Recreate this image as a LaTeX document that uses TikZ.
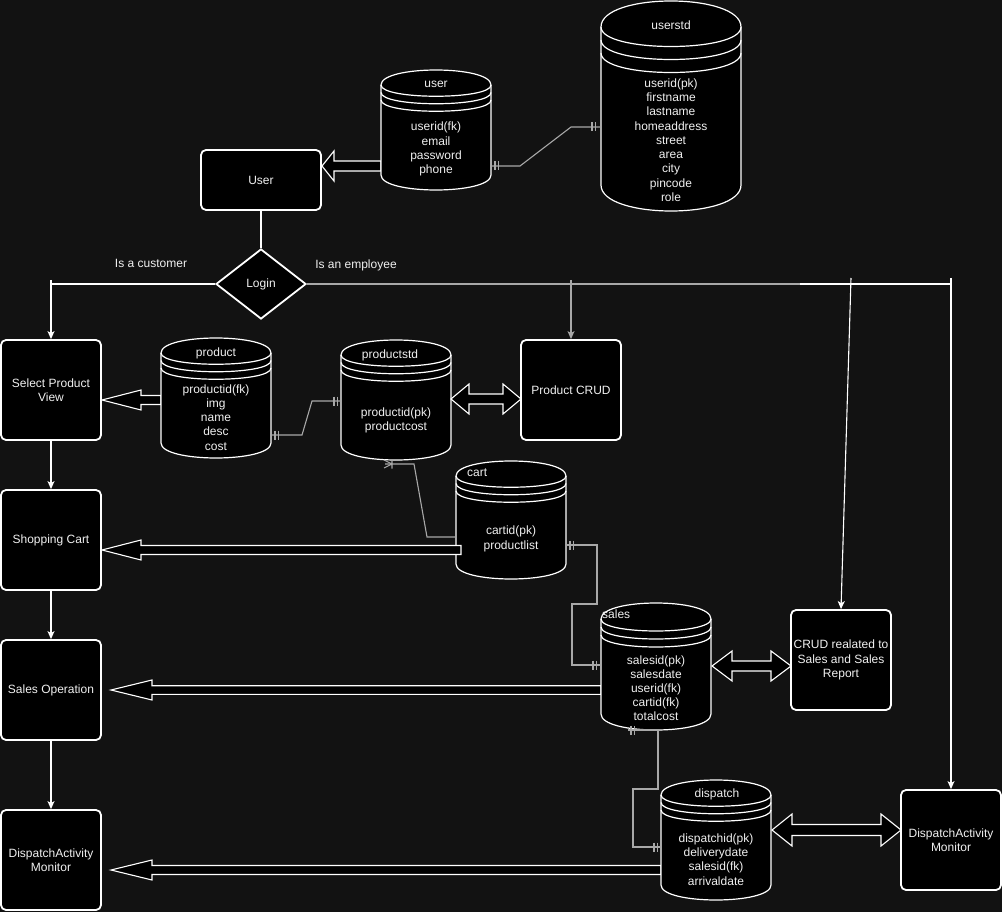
\documentclass[tikz,border=0pt]{standalone}
\usepackage{fontspec}
\setmainfont{Liberation Sans}
\usetikzlibrary{arrows.meta,shapes.geometric,calc}
\definecolor{bg}{HTML}{121212}
\definecolor{fg}{HTML}{F0F0F0}
\definecolor{gline}{HTML}{A8A8A8}
\newcommand\dfont{\fontsize{12}{14.2}\selectfont}
\tikzset{
  box/.style={draw=white, fill=black, rounded corners=5pt, line width=1.8pt, text=fg, align=center,
    inner sep=0pt, font=\dfont, minimum width=100pt, minimum height=100pt},
  cyl/.style={draw=white, fill=black, line width=1.2pt},
  cylline/.style={draw=white, line width=1.2pt},
  txt/.style={text=fg, font=\dfont, align=center, inner sep=0pt},
  flex/.style={draw=white, fill=black, line width=1.1pt, line join=miter},
  rel/.style={draw=gline, line width=1.1pt},
  flow/.style={draw=white, line width=1.1pt, -{Stealth[length=8pt,width=7pt,inset=2pt]}},
  plain/.style={draw=white, line width=1.1pt},
}
% datastore: name, x, y, w, h
\newcommand\dstore[5]{%
  \pgfmathsetmacro\dsd{min(#5/2, round(#5/8))}%
  \begin{scope}[shift={(#2,#3)}]
    \draw[cyl] (0,\dsd) .. controls (0,-\dsd/3) and (#4,-\dsd/3) .. (#4,\dsd) -- (#4,#5-\dsd)
      .. controls (#4,#5+\dsd/3) and (0,#5+\dsd/3) .. (0,#5-\dsd) -- cycle;
    \foreach \k in {0,0.5,1}{
      \draw[cylline] (0,\dsd+\k*\dsd) .. controls (0,2*\dsd+\k*\dsd) and (#4,2*\dsd+\k*\dsd) .. (#4,\dsd+\k*\dsd);
    }
    \node[inner sep=0pt, minimum width=#4pt, minimum height=#5pt, anchor=north west] (#1) at (0,0) {};
  \end{scope}}
% left-pointing block arrow: tipx, tailx, cy, shaft half, head half, head length
\newcommand\flexL[6]{%
  \draw[flex] (#1,#3) -- (#1+#6,#3-#5) -- (#1+#6,#3-#4) -- (#2,#3-#4) -- (#2,#3+#4)
    -- (#1+#6,#3+#4) -- (#1+#6,#3+#5) -- cycle;}
% double block arrow: lefttip, righttip, cy, shaft half, head half, head length
\newcommand\flexD[6]{%
  \draw[flex] (#1,#3) -- (#1+#6,#3-#5) -- (#1+#6,#3-#4) -- (#2-#6,#3-#4) -- (#2-#6,#3-#5) -- (#2,#3)
    -- (#2-#6,#3+#5) -- (#2-#6,#3+#4) -- (#1+#6,#3+#4) -- (#1+#6,#3+#5) -- cycle;}
% mandatory-one marker on horizontal line: x1, x2, y
\newcommand\mone[3]{%
  \draw[rel] (#1,#3-4.5) -- (#1,#3+4.5) (#2,#3-4.5) -- (#2,#3+4.5);}
\begin{document}
\begin{tikzpicture}[x=1pt,y=-1pt]
\fill[bg] (0,0) rectangle (1002,912);
\useasboundingbox (0,0) rectangle (1002,912);

% ---------- block arrows behind the stores ----------
\flexL{322}{381}{166}{5}{15}{12}
\flexL{102}{161}{400}{4.5}{10}{39}
\flexL{111}{601}{690}{4.3}{10}{41}
\flexL{111}{661}{870}{4.5}{10}{41}

% ---------- data stores ----------
\dstore{user}{381}{70}{110}{120}
\dstore{userstd}{601}{1}{140}{210}
\dstore{product}{161}{338}{110}{120}
\dstore{productstd}{341}{340}{110}{120}
\dstore{cart}{456}{461}{110}{118}
\dstore{sales}{601}{603}{110}{127}
\dstore{dispatch}{661}{780}{110}{120}

\flexL{102}{461}{550}{4.5}{10}{39}
\flexD{451}{521}{399}{5}{15}{18}
\flexD{712}{791}{666}{5}{15}{20}
\flexD{772}{901}{830}{5.5}{16}{20}

% store texts
\node[txt] (tuser) at (436,84) {user};
\node[txt] (tuserb) at (436,149) {userid(fk)\\email\\password\\phone};
\node[txt] (tustd) at (671,25) {userstd};
\node[txt, font=\fontsize{12}{14.25}\selectfont] (tustdb) at (671,140) {userid(pk)\\firstname\\lastname\\homeaddress\\street\\area\\city\\pincode\\role};
\node[txt] (tprod) at (216,353) {product};
\node[txt] (tprodb) at (216,417.5) {productid(fk)\\img\\name\\desc\\cost};
\node[txt] (tpstd) at (390,355) {productstd};
\node[txt] (tpstdb) at (396,420) {productid(pk)\\productcost};
\node[txt, anchor=west] (tcart) at (467,473) {cart};
\node[txt, font=\fontsize{12}{15}\selectfont] (tcartb) at (511,539) {cartid(pk)\\productlist};
\node[txt, anchor=west] (tsales) at (602,614) {sales};
\node[txt] (tsalesb) at (656,688.3) {salesid(pk)\\salesdate\\userid(fk)\\cartid(fk)\\totalcost};
\node[txt] (tdisp) at (717,794) {dispatch};
\node[txt] (tdispb) at (716,859.5) {dispatchid(pk)\\deliverydate\\salesid(fk)\\arrivaldate};

% ---------- process boxes ----------
\node[box, minimum width=120pt, minimum height=60pt] (ubox) at (261,180) {User};
\node[diamond, draw=white, fill=black, line width=1.8pt, text=fg, font=\dfont, inner sep=0pt,
  shape aspect=1.2857, minimum width=90pt, minimum height=70pt] (login) at (261,284) {Login};
\node[box] (spv) at (51,390) {Select Product\\View};
\node[box] (scart) at (51,540) {Shopping Cart};
\node[box] (sop) at (51,690) {Sales Operation};
\node[box] (dam) at (51,860) {DispatchActivity\\Monitor};
\node[box] (pcrud) at (571,390) {Product CRUD};
\node[box] (scrud) at (841,660) {CRUD realated to\\Sales and Sales\\Report};
\node[box] (damr) at (951,840) {DispatchActivity\\Monitor};

% ---------- flow lines ----------
\draw[plain] (ubox.south) -- (login.north);
\coordinate (cl) at (51,284);
\coordinate (cltop) at (51,280);
\draw[plain] (login.west) -- (cl);
\draw[flow] (cltop) -- (spv.north);
\coordinate (er) at (950,284);
\coordinate (eg) at (800,284);
\draw[plain] (login.east) -- (er);
\draw[rel] (login.east) -- (eg);
\coordinate (e1) at (571,280);
\coordinate (e2) at (851,278);
\coordinate (e3) at (951,278);
\draw[flow, draw=gline] (e1) -- (pcrud.north);
\draw[flow] (e2) -- (scrud.north);
\draw[flow] (e3) -- (damr.north);
\draw[flow] (spv.south) -- (scart.north);
\draw[flow] (scart.south) -- (sop.north);
\coordinate (sopb) at (51,741);
\draw[flow] (sopb) -- (dam.north);

\node[txt] (lcust) at (151,263) {Is a customer};
\node[txt] (lemp) at (356,265) {Is an employee};

% ---------- relations ----------
\draw[rel] (491,166) -- (520,166) -- (571,127) -- (601,127);
\mone{495}{498.5}{166}
\mone{592}{595.5}{127}
\draw[rel] (271,435) -- (302,435) -- (312,401) -- (341,401);
\mone{275}{278.5}{435}
\mone{334}{337.5}{401}
\draw[rel] (cart.west |- 0,537) -- (427,537) -- (414,464) -- (385,464);
\draw[rel] (384,460) -- (392,464) -- (384,468) (392,459.5) -- (392,468.5);
\draw[rel] (566,545) -- (597,545) -- (597,604) -- (572,604) -- (572,665) -- (601,665);
\mone{570}{573.5}{545}
\mone{593}{596.5}{665}
\draw[rel] (628,730) -- (658,730) -- (658,789) -- (633,789) -- (633,847) -- (661,847);
\mone{631}{634.5}{730}
\mone{654}{657.5}{847}
\end{tikzpicture}
\end{document}
